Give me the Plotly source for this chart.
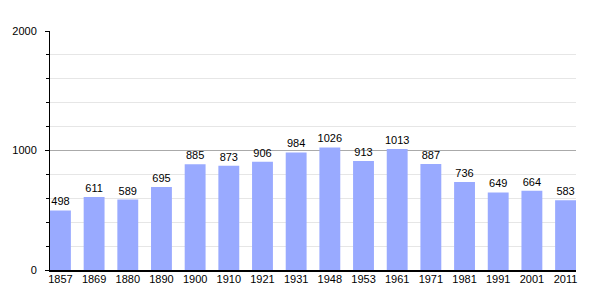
import plotly.graph_objects as go

years = ["1857", "1869", "1880", "1890", "1900", "1910", "1921", "1931",
         "1948", "1953", "1961", "1971", "1981", "1991", "2001", "2011"]
population = [498, 611, 589, 695, 885, 873, 906, 984,
              1026, 913, 1013, 887, 736, 649, 664, 583]
y_ticks = [0, 1000, 2000]

fig = go.Figure(go.Bar(
    x=years, y=population,
    text=[str(v) for v in population],
    textposition="outside",
    textfont=dict(family="Liberation Sans, Arial", size=11, color="#000"),
    cliponaxis=False,
    marker=dict(color="#99aaff", line=dict(width=0)),
))

fig.update_layout(
    width=605, height=300,
    margin=dict(l=50, r=29, t=31, b=30),
    paper_bgcolor="white", plot_bgcolor="white",
    showlegend=False,
    bargap=0.38,
    uniformtext=dict(minsize=11, mode="show"),
    font=dict(family="Liberation Sans, Arial", size=11, color="#000"),
    xaxis=dict(
        type="category", range=[-0.31, 15.31],
        showline=True, linecolor="#000", linewidth=1.5,
        showgrid=False, ticks="", tickfont=dict(size=11),
        ticklabelstandoff=-2,
    ),
    yaxis=dict(
        range=[0, 2000], tickvals=y_ticks,
        showline=True, linecolor="#000", linewidth=1,
        showgrid=True, gridcolor="#aaaaaa", gridwidth=1,
        ticks="outside", ticklen=4, tickcolor="#000",
        zeroline=False,
        minor=dict(dtick=200, showgrid=True, gridcolor="#e6e6e6",
                   ticks="outside", ticklen=3, tickcolor="#000"),
        tickfont=dict(size=11),
        ticklabelstandoff=6,
    ),
)

fig.write_html("out.html")
